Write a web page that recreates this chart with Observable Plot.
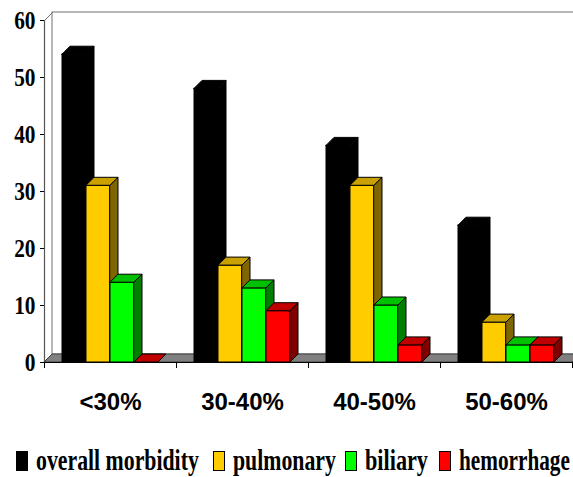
<!DOCTYPE html>
<html><head><meta charset="utf-8">
<script src="https://cdn.jsdelivr.net/npm/d3@7"></script>
<script src="https://cdn.jsdelivr.net/npm/@observablehq/plot@0.6"></script>
<style>
html,body{margin:0;padding:0;overflow:hidden;background:#fff}
#chart svg{display:block}
</style>
</head><body><div id="chart"></div>
<script>
// ---- data ----
const categories = ["<30%", "30-40%", "40-50%", "50-60%"];
const series = ["overall morbidity", "pulmonary", "biliary", "hemorrhage"];
const overallMorbidity = [54, 48, 38, 24];
const pulmonary = [31, 17, 31, 7];
const biliary = [14, 13, 10, 3];
const hemorrhage = [0, 9, 3, 3];
const yTicks = [0, 10, 20, 30, 40, 50, 60];

// ---- styles ----
const values = [overallMorbidity, pulmonary, biliary, hemorrhage];
const frontColors = ["#000000", "#FFCC00", "#00FF00", "#FF0000"];
const topColors = ["#000000", "#C9A100", "#00C000", "#C00000"];
const sideColors = ["#000000", "#806600", "#008000", "#800000"];

// ---- layout (pixels) ----
const W = 573, H = 430;
const mL = 44, mR = 1, mT = 20, mB = 68;
const yMax = 60;
const bandPx = (W - mL - mR) / categories.length;
const padPx = 18, barPx = 24, depthPx = 8;
const pxPerUnit = (H - mT - mB) / yMax;
const dX = depthPx / bandPx;   // depth in x-scale units
const dY = depthPx / pxPerUnit; // depth in y-scale units

const bars = [];
categories.forEach((c, i) => series.forEach((s, j) => {
  const x1 = i + (padPx + barPx * j) / bandPx;
  const x2 = x1 + barPx / bandPx;
  bars.push({c, s, j, v: values[j][i], base: 0, x1, x2, id: c + "|" + s});
}));

function topPts(b) {
  return [
    {id: b.id, x: b.x1, lo: b.v, hi: b.v},
    {id: b.id, x: b.x1 + dX, lo: b.v, hi: b.v + dY},
    {id: b.id, x: b.x2, lo: b.v, hi: b.v + dY},
    {id: b.id, x: b.x2 + dX, lo: b.v + dY, hi: b.v + dY}
  ];
}
function sidePts(b) {
  return [
    {id: b.id, x: b.x2, lo: 0, hi: b.v},
    {id: b.id, x: b.x2 + dX, lo: dY, hi: b.v + dY}
  ];
}
const nCat = categories.length;
const floorPts = [
  {x: 0, lo: 0, hi: 0},
  {x: dX, lo: 0, hi: dY},
  {x: nCat, lo: 0, hi: dY},
  {x: nCat + dX, lo: dY, hi: dY}
];
const wall = [{x1: dX, x2: nCat + dX, y1: dY, y2: yMax + dY}];
const wallEdges = [
  {x1: 0, y1: yMax, x2: dX, y2: yMax + dY},
  {x1: 0, y1: 0, x2: dX, y2: dY}
];
const axisLine = [{x: 0, y1: 0, y2: yMax}];
const xTickPos = d3.range(nCat + 1);
const xLabelPos = categories.map((c, i) => i + 0.5);

const barMarks = series.flatMap((s, j) => {
  const bs = bars.filter(b => b.j === j);
  return [
    Plot.rect(bs, {x1: "x1", x2: "x2", y1: "base", y2: "v", fill: frontColors[j], stroke: "#000", strokeWidth: 1}),
    Plot.area(bs.flatMap(topPts), {x1: "x", y1: "lo", y2: "hi", z: "id", fill: topColors[j], stroke: "#000", strokeWidth: 1, strokeLinejoin: "round"}),
    Plot.area(bs.flatMap(sidePts), {x1: "x", y1: "lo", y2: "hi", z: "id", fill: sideColors[j], stroke: "#000", strokeWidth: 1, strokeLinejoin: "round"})
  ];
});

const chart = Plot.plot({
  width: W, height: H,
  marginLeft: mL, marginRight: mR, marginTop: mT, marginBottom: mB,
  style: {background: "white", fontFamily: "Liberation Sans, Arial, sans-serif"},
  x: {domain: [0, nCat], label: null},
  y: {domain: [0, yMax], label: null},
  marks: [
    Plot.rect(wall, {x1: "x1", x2: "x2", y1: "y1", y2: "y2", fill: "white", stroke: "#707070", strokeWidth: 1}),
    Plot.link(wallEdges, {x1: "x1", y1: "y1", x2: "x2", y2: "y2", stroke: "#707070", strokeWidth: 1}),
    Plot.area(floorPts, {x1: "x", y1: "lo", y2: "hi", fill: "#808080", stroke: "#404040", strokeWidth: 1}),
    Plot.ruleX(axisLine, {x: "x", y1: "y1", y2: "y2", stroke: "#555", strokeWidth: 1.2}),
    ...barMarks,
    Plot.ruleY([0], {x1: 0, x2: nCat, stroke: "#000", strokeWidth: 1}),
    Plot.axisY(yTicks, {tickSize: 4, tickPadding: 5, fontSize: 26, fontWeight: "bold",
      fontFamily: "Liberation Serif, Times New Roman, serif", label: null, stroke: "#000", color: "#000"}),
    Plot.axisX(xTickPos, {tickSize: 6, tickFormat: () => "", label: null, stroke: "#000"}),
    Plot.axisX(xLabelPos, {tickSize: 0, tickPadding: 30, tickFormat: d => categories[Math.round(d - 0.5)],
      fontSize: 24, fontWeight: "bold", fontFamily: "Liberation Sans, Arial, sans-serif", label: null, color: "#000"})
  ]
});
document.getElementById("chart").appendChild(chart);

// compress the serif y tick labels horizontally like the original
d3.select(chart).selectAll('g[aria-label="y-axis tick label"] text').each(function() {
  const w = this.getComputedTextLength();
  this.setAttribute("textLength", (w * 0.82).toFixed(1));
  this.setAttribute("lengthAdjust", "spacingAndGlyphs");
});

// ---- legend (below the chart) ----
const LH = 477 - H;
const legendSquareX = [16, 213, 345, 439];
const legendTextW = [163, 103, 63, 111];
const baseY = 40;
const leg = d3.select("#chart").append("svg")
  .attr("width", W).attr("height", LH)
  .style("display", "block").style("background", "white");
series.forEach((s, j) => {
  const x = legendSquareX[j];
  leg.append("rect").attr("x", x + 0.5).attr("y", baseY - 18.5).attr("width", 11).attr("height", 19)
    .attr("fill", frontColors[j]).attr("stroke", "#000").attr("stroke-width", 1);
  const t = leg.append("text").attr("x", 0).attr("y", 0)
    .attr("font-family", "Liberation Serif, Times New Roman, serif")
    .attr("font-weight", "bold").attr("font-size", 29).attr("fill", "#000").text(s);
  const w = t.node().getComputedTextLength();
  const k = legendTextW[j] / w;
  t.attr("transform", `translate(${x + 20},${baseY}) scale(${k.toFixed(3)},1)`);
});
</script>
</body></html>
